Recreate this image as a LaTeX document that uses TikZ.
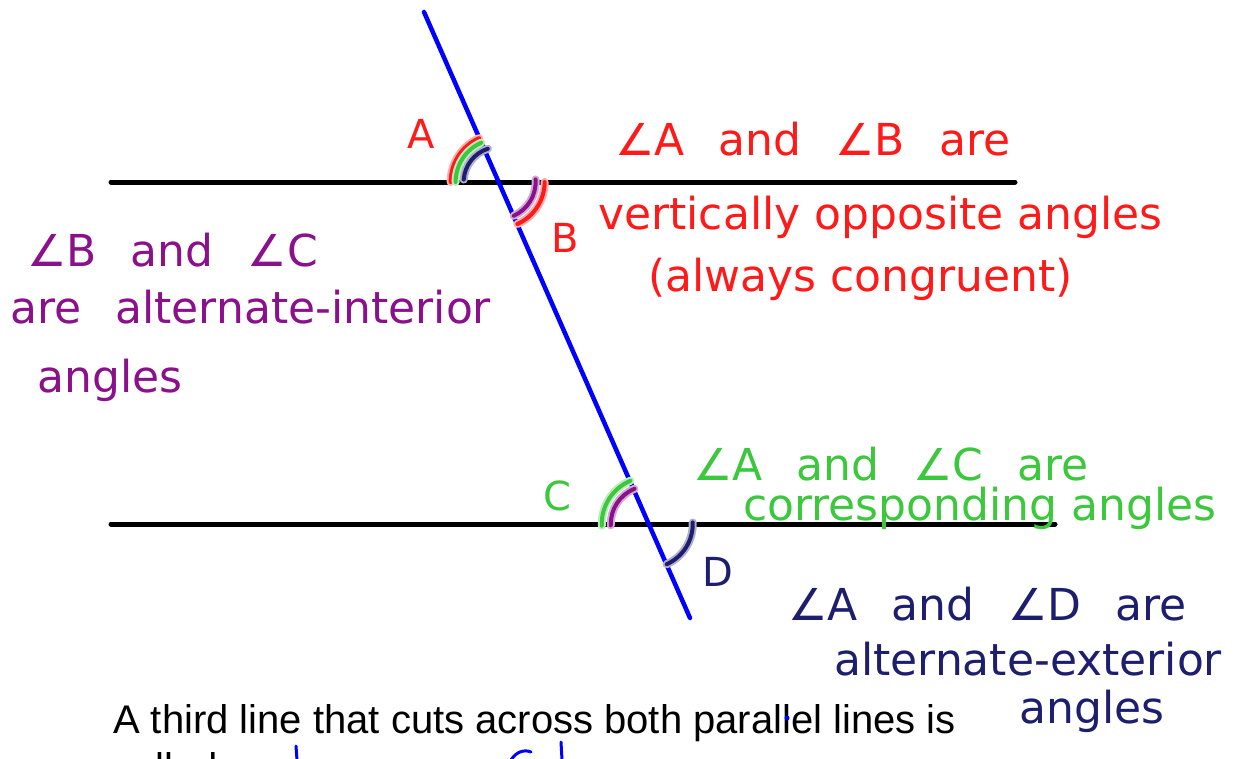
\documentclass[tikz,border=0pt]{standalone}
\usepackage{fontspec}
\setmainfont{Liberation Sans}
\newfontfamily\handfont{DejaVu Sans}
\usetikzlibrary{calc}
\definecolor{cred}{HTML}{FF1A1A}
\definecolor{cgreen}{HTML}{3CC83C}
\definecolor{cpurple}{HTML}{8B108B}
\definecolor{cnavy}{HTML}{1E1E6E}
\definecolor{cblue}{HTML}{0000FF}
\newcommand{\gap}{\hspace{34pt}}
\tikzset{
  every picture/.style={x=1pt, y=1pt, line cap=round},
  hand/.style={text=#1, font=\handfont\fontsize{44}{52}\selectfont, inner sep=0pt, anchor=base west},
  tag/.style={text=#1, font=\handfont\fontsize{40}{48}\selectfont, inner sep=0pt},
  anglemark/.style={draw=#1, line width=4pt, preaction={draw=#1!35, line width=8pt}},
  parline/.style={draw=black, line width=5pt},
  cutline/.style={draw=cblue, line width=4.5pt},
  printed/.style={font=\fontsize{40}{48}\selectfont, inner sep=0pt, anchor=base west},
}

\begin{document}
\begin{tikzpicture}
  \useasboundingbox (0,0) rectangle (1241,-758);
  % the two parallel lines and the transversal
  \coordinate (L1) at (111,-182);
  \coordinate (R1) at (1015,-182);
  \coordinate (L2) at (111,-524);
  \coordinate (R2) at (1055,-524);
  \coordinate (T1) at (424,-12);
  \coordinate (T2) at (690,-618);
  \coordinate (P) at (intersection of T1--T2 and L1--R1);
  \coordinate (Q) at (intersection of T1--T2 and L2--R2);
  \draw[parline] (L1) -- (R1);
  \draw[parline] (L2) -- (R2);
  \draw[cutline] (T1) -- (T2);
  % angle A (upper left at P)
  \draw[anglemark=cred] (P) ++(180:48) arc (180:114:48);
  \draw[anglemark=cgreen] (P) ++(180:43) arc (180:114:43);
  \draw[anglemark=cnavy] (P) ++(176:35) arc (176:108:35);
  % angle B (lower right at P)
  \draw[anglemark=cred] (P) ++(0:46) arc (0:-66:46);
  \draw[anglemark=cpurple] (P) ++(4:37) arc (4:-66:37);
  % angle C (upper left at Q)
  \draw[anglemark=cgreen] (Q) ++(182:47) arc (182:113:47);
  \draw[anglemark=cpurple] (Q) ++(182:38) arc (182:112:38);
  % angle D (lower right at Q)
  \draw[anglemark=cnavy] (Q) ++(2:44) arc (2:-66:44);
  % letters
  \node[tag=cred] (lA) at (421,-134) {A};
  \node[tag=cred] (lB) at (565,-238) {B};
  \node[tag=cgreen] (lC) at (557,-496) {C};
  \node[tag=cnavy] (lD) at (718,-572) {D};
  % vertically opposite
  \node[hand=cred] (ab1) at (615,-155) {∠A\gap and\gap ∠B\gap are};
  \node[hand=cred] (ab2) at (598,-229) {vertically opposite angles};
  \node[hand=cred] (ab3) at (648,-291) {(always congruent)};
  % alternate interior
  \node[hand=cpurple] (bc1) at (27,-266) {∠B\gap and\gap ∠C};
  \node[hand=cpurple] (bc2) at (10,-323) {are\gap alternate-interior};
  \node[hand=cpurple] (bc3) at (37,-392) {angles};
  % corresponding
  \node[hand=cgreen] (ac1) at (693,-480) {∠A\gap and\gap ∠C\gap are};
  \node[hand=cgreen] (ac2) at (743,-520) {corresponding angles};
  % alternate exterior
  \node[hand=cnavy] (ad1) at (788,-620) {∠A\gap and\gap ∠D\gap are};
  \node[hand=cnavy] (ad2) at (834,-675) {alternate-exterior};
  \node[hand=cnavy] (ad3) at (1019,-723) {angles};
  % printed text, cut off at the bottom
  \clip (0,0) rectangle (1241,-758);
  \node[printed] (txt1) at (113,-733) {A third line that cuts across both parallel lines is};
  \node[printed] (txt2) at (113,-781) {called};
  \fill[cblue] (787,-718) circle (2.5);
  \draw[cutline, line width=3pt] (296,-746) -- (297,-760);
  \draw[cutline, line width=3pt] (511,-760) .. controls (516,-752) and (524,-749) .. (531,-752);
  \draw[cutline, line width=3pt] (561,-742) -- (562,-760);
\end{tikzpicture}
\end{document}
